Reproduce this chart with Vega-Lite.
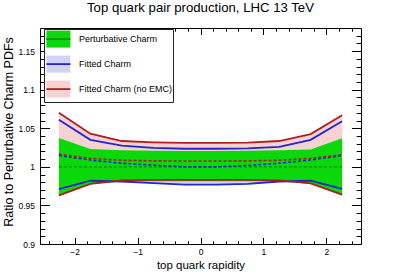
{
  "$schema": "https://vega.github.io/schema/vega-lite/v6.json",
  "width": 321,
  "height": 216,
  "autosize": "none",
  "padding": {"left": 40, "top": 28, "right": 40, "bottom": 28},
  "background": "white",
  "title": {"text": "Top quark pair production, LHC 13 TeV", "fontSize": 13.2, "font": "Liberation Sans", "fontWeight": "normal", "color": "black", "anchor": "middle", "frame": "group", "baseline": "alphabetic", "offset": 2},
  "data": {"values": [
    {"series": "Perturbative Charm", "key": "pc", "x": -2.25, "lo": 0.962, "c": 1.0, "hi": 1.0375},
    {"series": "Perturbative Charm", "key": "pc", "x": -1.75, "lo": 0.9775, "c": 1.0, "hi": 1.023},
    {"series": "Perturbative Charm", "key": "pc", "x": -1.25, "lo": 0.981, "c": 1.0, "hi": 1.0215},
    {"series": "Perturbative Charm", "key": "pc", "x": -0.75, "lo": 0.9812, "c": 1.0, "hi": 1.021},
    {"series": "Perturbative Charm", "key": "pc", "x": -0.25, "lo": 0.9812, "c": 1.0, "hi": 1.0205},
    {"series": "Perturbative Charm", "key": "pc", "x": 0.25, "lo": 0.9812, "c": 1.0, "hi": 1.0205},
    {"series": "Perturbative Charm", "key": "pc", "x": 0.75, "lo": 0.9812, "c": 1.0, "hi": 1.021},
    {"series": "Perturbative Charm", "key": "pc", "x": 1.25, "lo": 0.981, "c": 1.0, "hi": 1.0215},
    {"series": "Perturbative Charm", "key": "pc", "x": 1.75, "lo": 0.978, "c": 1.0, "hi": 1.0225},
    {"series": "Perturbative Charm", "key": "pc", "x": 2.25, "lo": 0.963, "c": 1.0, "hi": 1.037},
    {"series": "Fitted Charm", "key": "fc", "x": -2.25, "lo": 0.971, "c": 1.0148, "hi": 1.061},
    {"series": "Fitted Charm", "key": "fc", "x": -1.75, "lo": 0.982, "c": 1.0088, "hi": 1.035},
    {"series": "Fitted Charm", "key": "fc", "x": -1.25, "lo": 0.981, "c": 1.0047, "hi": 1.0275},
    {"series": "Fitted Charm", "key": "fc", "x": -0.75, "lo": 0.979, "c": 1.0022, "hi": 1.0245},
    {"series": "Fitted Charm", "key": "fc", "x": -0.25, "lo": 0.977, "c": 1.0, "hi": 1.0235},
    {"series": "Fitted Charm", "key": "fc", "x": 0.25, "lo": 0.977, "c": 1.0, "hi": 1.0235},
    {"series": "Fitted Charm", "key": "fc", "x": 0.75, "lo": 0.978, "c": 1.0018, "hi": 1.024},
    {"series": "Fitted Charm", "key": "fc", "x": 1.25, "lo": 0.981, "c": 1.0047, "hi": 1.026},
    {"series": "Fitted Charm", "key": "fc", "x": 1.75, "lo": 0.982, "c": 1.009, "hi": 1.035},
    {"series": "Fitted Charm", "key": "fc", "x": 2.25, "lo": 0.9715, "c": 1.0145, "hi": 1.059},
    {"series": "Fitted Charm (no EMC)", "key": "fcn", "x": -2.25, "lo": 0.963, "c": 1.0165, "hi": 1.07},
    {"series": "Fitted Charm (no EMC)", "key": "fcn", "x": -1.75, "lo": 0.978, "c": 1.011, "hi": 1.043},
    {"series": "Fitted Charm (no EMC)", "key": "fcn", "x": -1.25, "lo": 0.9825, "c": 1.0085, "hi": 1.0335},
    {"series": "Fitted Charm (no EMC)", "key": "fcn", "x": -0.75, "lo": 0.983, "c": 1.0078, "hi": 1.0318},
    {"series": "Fitted Charm (no EMC)", "key": "fcn", "x": -0.25, "lo": 0.983, "c": 1.0075, "hi": 1.031},
    {"series": "Fitted Charm (no EMC)", "key": "fcn", "x": 0.25, "lo": 0.983, "c": 1.0075, "hi": 1.031},
    {"series": "Fitted Charm (no EMC)", "key": "fcn", "x": 0.75, "lo": 0.983, "c": 1.0078, "hi": 1.0315},
    {"series": "Fitted Charm (no EMC)", "key": "fcn", "x": 1.25, "lo": 0.9825, "c": 1.0085, "hi": 1.0335},
    {"series": "Fitted Charm (no EMC)", "key": "fcn", "x": 1.75, "lo": 0.9785, "c": 1.011, "hi": 1.0425},
    {"series": "Fitted Charm (no EMC)", "key": "fcn", "x": 2.25, "lo": 0.964, "c": 1.0157, "hi": 1.067}
  ]},
  "layer": [
    {
      "transform": [{"filter": "datum.key == 'fc'"}],
      "mark": {"type": "area", "interpolate": "linear"},
      "encoding": {
        "x": {"field": "x", "type": "quantitative", "scale": {"domain": [-2.55, 2.55], "nice": false, "zero": false},
          "axis": {"orient": "bottom", "values": [-2, -1, 0, 1, 2], "format": ".0f", "tickSize": -6.5,
            "labelPadding": 10, "labelOverlap": false, "labelFlush": false,
            "title": "top quark rapidity", "titleFontSize": 11.5, "titleBaseline": "alphabetic", "titleY": 24.5}},
        "y": {"field": "lo", "type": "quantitative", "scale": {"domain": [0.9, 1.18], "nice": false, "zero": false},
          "axis": {"orient": "left", "values": [0.9, 0.95, 1, 1.05, 1.1, 1.15], "format": "~g", "tickSize": -9.6,
            "labelPadding": 15.1, "labelOverlap": false, "labelFlush": false,
            "title": "Ratio to Perturbative Charm PDFs", "titleFontSize": 12.5, "titleAngle": 270, "titleBaseline": "alphabetic", "titleAlign": "center", "titleX": -28, "titleY": 103.5}},
        "y2": {"field": "hi"},
        "fill": {"field": "series", "type": "nominal",
          "scale": {"domain": ["Perturbative Charm", "Fitted Charm", "Fitted Charm (no EMC)"], "range": ["#0ad80a", "#d2d2f6", "#f6d2d2"]},
          "legend": {"orient": "none", "legendX": 4, "legendY": 1, "padding": 0.6, "symbolType": "M-1.41,-1H1.41V1H-1.41Z", "symbolSize": 289, "symbolOffset": 4.3, "symbolStrokeWidth": 1.8, "symbolStrokeColor": "transparent", "rowPadding": 0, "labelOffset": 11, "labelFontSize": 9, "labelFont": "Liberation Sans", "labelColor": "black", "labelExpr": "datum.label + '\u00a0\u00a0\u00a0\u00a0'", "title": null, "fillColor": "white", "strokeColor": "#222", "zindex": 1}}
      }
    },
    {
      "transform": [{"filter": "datum.key == 'fcn'"}],
      "mark": {"type": "area", "interpolate": "linear"},
      "encoding": {
        "x": {"field": "x", "type": "quantitative", "scale": {"domain": [-2.55, 2.55], "nice": false, "zero": false},
          "axis": {"orient": "top", "values": [-2, -1, 0, 1, 2], "labels": false, "title": null, "tickSize": -6.5}},
        "y": {"field": "lo", "type": "quantitative", "scale": {"domain": [0.9, 1.18], "nice": false, "zero": false},
          "axis": {"orient": "right", "values": [0.9, 0.95, 1, 1.05, 1.1, 1.15], "labels": false, "title": null, "tickSize": -9.6}},
        "y2": {"field": "hi"},
        "fill": {"field": "series", "type": "nominal"}
      }
    },
    {
      "transform": [{"filter": "datum.key == 'pc'"}],
      "mark": {"type": "area", "interpolate": "linear"},
      "encoding": {
        "x": {"field": "x", "type": "quantitative", "scale": {"domain": [-2.55, 2.55], "nice": false, "zero": false},
          "axis": {"orient": "bottom", "values": [-2.4,-2.2,-1.8,-1.6,-1.4,-1.2,-0.8,-0.6,-0.4,-0.2,0.2,0.4,0.6,0.8,1.2,1.4,1.6,1.8,2.2,2.4], "labels": false, "title": null, "tickSize": -3.2}},
        "y": {"field": "lo", "type": "quantitative", "scale": {"domain": [0.9, 1.18], "nice": false, "zero": false},
          "axis": {"orient": "left", "values": [0.91,0.92,0.93,0.94,0.96,0.97,0.98,0.99,1.01,1.02,1.03,1.04,1.06,1.07,1.08,1.09,1.11,1.12,1.13,1.14,1.16,1.17], "labels": false, "title": null, "tickSize": -4.8}},
        "y2": {"field": "hi"},
        "fill": {"field": "series", "type": "nominal"}
      }
    },
    {
      "transform": [{"filter": "datum.key == 'pc'"}],
      "mark": {"type": "line", "interpolate": "linear", "strokeWidth": 1.3, "strokeDash": [3, 2]},
      "encoding": {
        "x": {"field": "x", "type": "quantitative", "scale": {"domain": [-2.55, 2.55], "nice": false, "zero": false},
          "axis": {"orient": "top", "values": [-2.4,-2.2,-1.8,-1.6,-1.4,-1.2,-0.8,-0.6,-0.4,-0.2,0.2,0.4,0.6,0.8,1.2,1.4,1.6,1.8,2.2,2.4], "labels": false, "title": null, "tickSize": -3.2}},
        "y": {"field": "c", "type": "quantitative", "scale": {"domain": [0.9, 1.18], "nice": false, "zero": false},
          "axis": {"orient": "right", "values": [0.91,0.92,0.93,0.94,0.96,0.97,0.98,0.99,1.01,1.02,1.03,1.04,1.06,1.07,1.08,1.09,1.11,1.12,1.13,1.14,1.16,1.17], "labels": false, "title": null, "tickSize": -4.8}},
        "stroke": {"field": "key", "type": "nominal"}
      }
    },
    {
      "transform": [{"filter": "datum.key != 'pc'"}],
      "mark": {"type": "line", "interpolate": "linear", "strokeWidth": 1.8},
      "encoding": {
        "x": {"field": "x", "type": "quantitative", "axis": null},
        "y": {"field": "hi", "type": "quantitative", "axis": null},
        "stroke": {"field": "key", "type": "nominal",
          "scale": {"domain": ["pc", "fc", "fcn"], "range": ["#008c00", "#2424d0", "#b01e1e"]},
          "legend": {"orient": "none", "legendX": 4, "legendY": 1, "padding": 0.6, "symbolType": "M-1.41,0H1.41M-1.41,-1M1.41,1", "symbolSize": 289, "symbolOffset": 4.3, "symbolStrokeWidth": 1.8, "symbolDash": [], "rowPadding": 0, "labelOffset": 11, "labelFontSize": 9, "labelExpr": "' '", "title": null, "zindex": 2}}
      }
    },
    {
      "transform": [{"filter": "datum.key != 'pc'"}],
      "mark": {"type": "line", "interpolate": "linear", "strokeWidth": 1.8},
      "encoding": {
        "x": {"field": "x", "type": "quantitative", "axis": null},
        "y": {"field": "lo", "type": "quantitative", "axis": null},
        "stroke": {"field": "key", "type": "nominal"}
      }
    },
    {
      "transform": [{"filter": "datum.key != 'pc'"}],
      "mark": {"type": "line", "interpolate": "linear", "strokeWidth": 1.6, "strokeDash": [3, 2]},
      "encoding": {
        "x": {"field": "x", "type": "quantitative", "axis": null},
        "y": {"field": "c", "type": "quantitative", "axis": null},
        "stroke": {"field": "key", "type": "nominal"}
      }
    }
  ],
  "resolve": {"axis": {"x": "independent", "y": "independent"}},
  "config": {
    "view": {"stroke": "black", "strokeWidth": 1},
    "font": "Liberation Sans",
    "axis": {"domain": false, "grid": false, "tickColor": "black", "tickWidth": 1, "labelFont": "Liberation Sans", "labelFontSize": 8.5, "labelColor": "black", "titleFont": "Liberation Sans", "titleFontWeight": "normal", "titleColor": "black"}
  }
}
